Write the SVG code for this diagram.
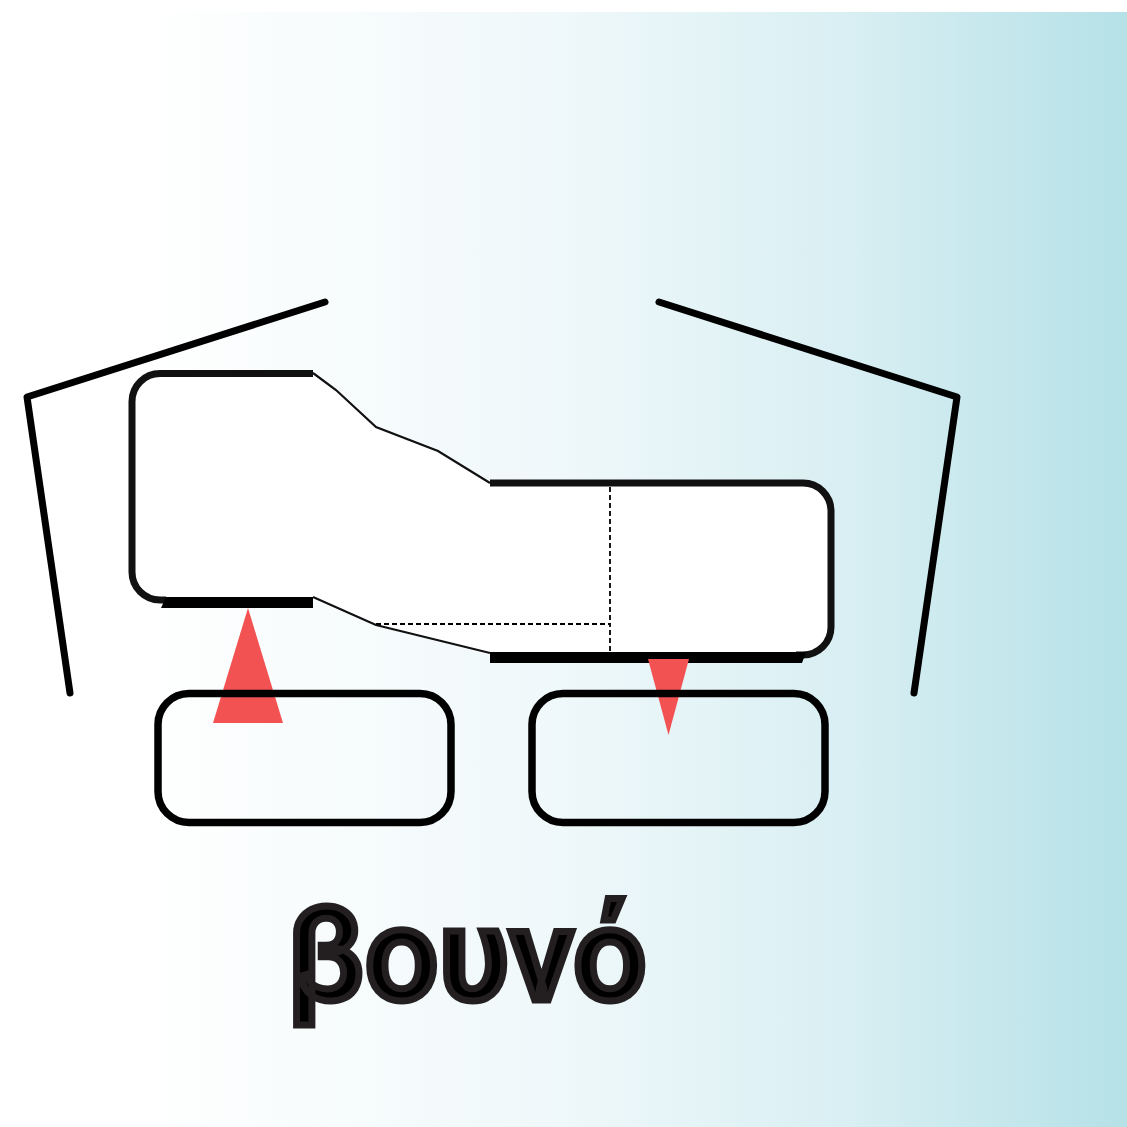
<svg xmlns="http://www.w3.org/2000/svg" width="1127" height="1127" viewBox="0 0 1127 1127">
<defs>
<linearGradient id="bg" x1="0" y1="0" x2="1127" y2="0" gradientUnits="userSpaceOnUse">
<stop offset="0" stop-color="#ffffff"/><stop offset="0.12" stop-color="#ffffff"/><stop offset="0.5" stop-color="#eff8fa"/><stop offset="0.75" stop-color="#d9eff3"/><stop offset="1" stop-color="#b5e1e7"/>
</linearGradient>
<style>
.thick{fill:none;stroke:#000;stroke-width:7;stroke-linejoin:round;stroke-linecap:round}
.outline{fill:none;stroke:#111;stroke-width:7}
.thin{fill:none;stroke:#111;stroke-width:2.200}
.dash{fill:none;stroke:#000;stroke-width:1.800;stroke-dasharray:5 3}
.red{fill:#f25252}
.box{fill:none;stroke:#000;stroke-width:7.500}
.word{font-family:"Roboto",sans-serif;font-weight:500;font-size:130px;fill:#000;stroke:#231f20;stroke-width:7}
</style>
</defs>
<rect x="0" y="12" width="1127" height="1115" fill="url(#bg)"/>
<g id="body">
<path d="M160 373H313L336 390L376 427L438 451L490 483H803A28 28 0 0 1 831 511V627A28 28 0 0 1 803 655H490L376 625L313 600H160A28 28 0 0 1 132 572V401A28 28 0 0 1 160 373Z" fill="#fff"/>
<path class="outline" d="M313 373.500H160A28 28 0 0 0 132 401.500V572A28 28 0 0 0 160 600H166"/>
<path class="outline" d="M490 483H803A28 28 0 0 1 831 511V627A28 28 0 0 1 803 655H796"/>
<polygon points="166,597 313,597 313,608 161,608" fill="#000"/>
<polygon points="490,652 806,652 802,663 490,663" fill="#000"/>
</g>
<g id="connectors">
<polyline class="thin" points="313,373 336,390 376,427 438,451 490,483"/>
<polyline class="thin" points="313,597 376,625 490,653"/>
<polyline class="dash" points="376,624 610,624 610,652"/>
<line class="dash" x1="610" y1="487" x2="610" y2="624"/>
<polyline class="thick" points="325,302 27,397 70,693"/>
<polyline class="thick" points="659,302 957,397 914,693"/>
</g>
<g id="arrow-up"><polygon class="red" points="248,608 283,723 213,723"/></g>
<g id="arrow-down"><polygon class="red" points="648,659 689,659 668.500,735"/></g>
<g id="block-left"><rect class="box" x="158" y="693.500" width="293" height="129" rx="31"/></g>
<g id="block-right"><rect class="box" x="532" y="693.500" width="293" height="129" rx="31"/></g>
<g id="label"><text class="word" x="287" y="1000">βουνό</text></g>
</svg>
